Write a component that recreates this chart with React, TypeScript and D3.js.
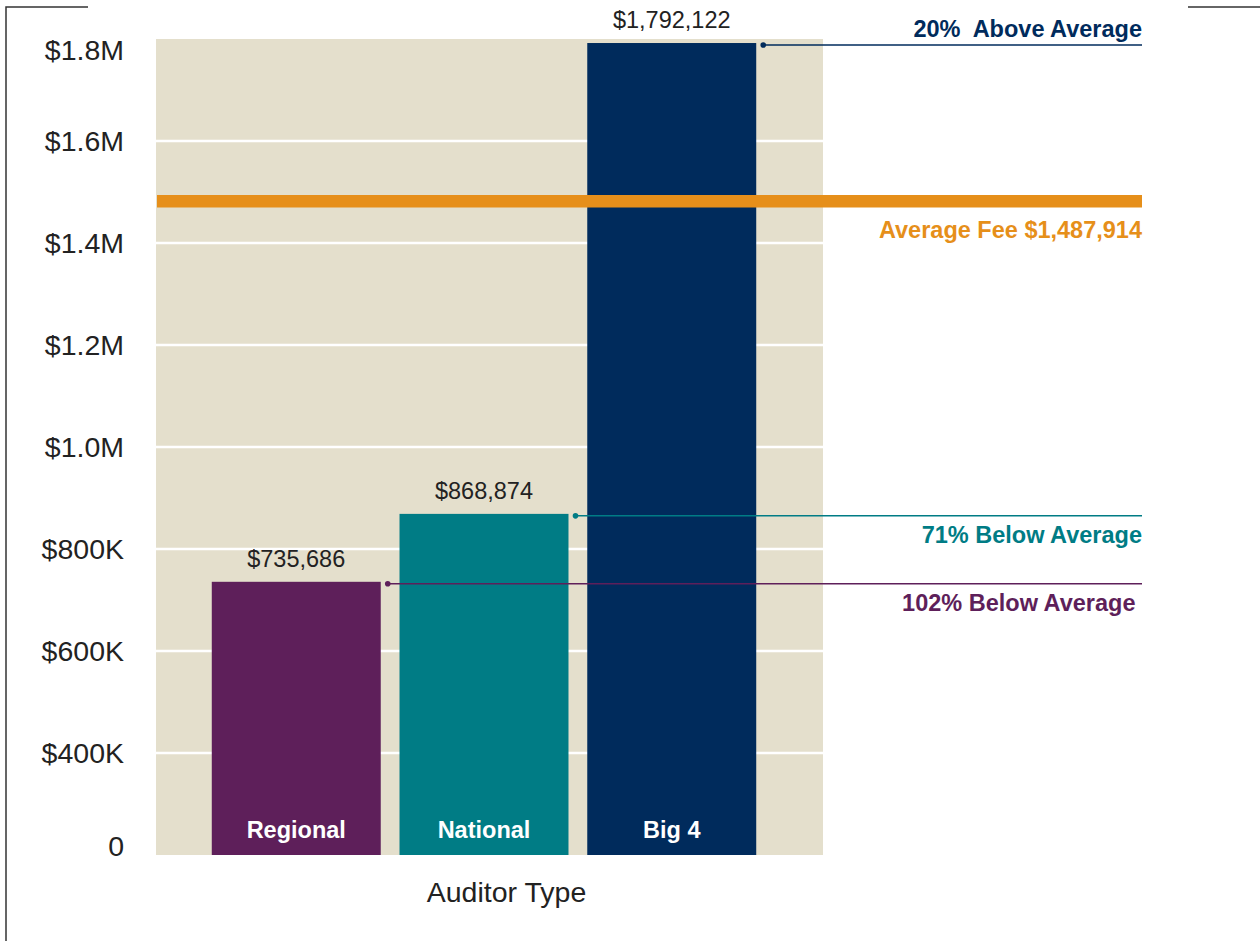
import React from 'react';
import * as d3 from 'd3';

const categories = ['Regional', 'National', 'Big 4'];
const fees = [735686, 868874, 1792122];
const barColors = ['#5E1F5A', '#007C85', '#002B5C'];
const compareLabels = ['102% Below Average ', '71% Below Average', '20%  Above Average'];
const averageFee = 1487914;
const yTickValues = [200000, 400000, 600000, 800000, 1000000, 1200000, 1400000, 1600000, 1800000];
const yTickLabels = ['0', '$400K', '$600K', '$800K', '$1.0M', '$1.2M', '$1.4M', '$1.6M', '$1.8M'];

const W = 1260;
const H = 941;
const plot = { left: 156, right: 823, top: 39, bottom: 855 };
const noteRight = 1142;
const font = '"Liberation Sans", Arial, Helvetica, sans-serif';
const textColor = '#222';

const App = () => {
  const x = d3.scaleBand<string>().domain(categories).range([193, 775]).paddingInner(0.1).paddingOuter(0.1);
  const y = d3.scaleLinear().domain([200000, 1800000]).range([plot.bottom, plot.top]);
  const money = d3.format('$,');
  const bw = x.bandwidth();

  return (
    <svg width={W} height={H} style={{ position: 'absolute', left: 0, top: 0, background: '#fff' }} fontFamily={font}>
      {/* frame corners */}
      <path d={`M88,7H6V${H}`} fill="none" stroke="#333" strokeWidth={1.5} />
      <path d={`M1188,7H${W}`} fill="none" stroke="#333" strokeWidth={1.5} />

      <rect x={plot.left} y={plot.top} width={plot.right - plot.left} height={plot.bottom - plot.top} fill="#E4DFCC" />
      {yTickValues.slice(1, -1).map((v) => (
        <line key={v} x1={plot.left} x2={plot.right} y1={y(v)} y2={y(v)} stroke="#fff" strokeWidth={2.5} />
      ))}

      {yTickValues.map((v, i) => {
        const last = i === yTickValues.length - 1;
        const first = i === 0;
        return (
          <text key={v} x={124} y={y(v)} dy={first ? 1 : last ? 21 : 10} textAnchor="end" fontSize={28.5} fill={textColor}>
            {yTickLabels[i]}
          </text>
        );
      })}

      {/* bars */}
      {categories.map((c, i) => {
        const bx = x(c) as number;
        const top = y(fees[i]);
        return (
          <g key={c}>
            <rect x={bx} y={top} width={bw} height={plot.bottom - top} fill={barColors[i]} />
            <text x={bx + bw / 2} y={top - 15} textAnchor="middle" fontSize={23.5} fill={textColor}>
              {money(fees[i])}
            </text>
            <text x={bx + bw / 2} y={plot.bottom - 17} textAnchor="middle" fontSize={23.5} fontWeight="bold" fill="#fff">
              {c}
            </text>
          </g>
        );
      })}

      {/* comparison leader lines, over the bars */}
      {categories.map((c, i) => {
        const bx = x(c) as number;
        const top = y(fees[i]) + 2;
        const above = fees[i] > averageFee;
        const dotX = bx + bw + 7;
        return (
          <g key={c}>
            <line x1={dotX} x2={noteRight} y1={top} y2={top} stroke={barColors[i]} strokeWidth={1.5} />
            <circle cx={dotX} cy={top} r={2.8} fill={barColors[i]} />
            <text
              x={noteRight}
              y={top}
              dy={above ? -8 : 27}
              textAnchor="end"
              fontSize={23.5}
              fontWeight="bold"
              fill={barColors[i]}
              style={{ whiteSpace: 'pre' }}
            >
              {compareLabels[i]}
            </text>
          </g>
        );
      })}

      <line x1={plot.left + 1} x2={noteRight} y1={y(averageFee) + 3} y2={y(averageFee) + 3} stroke="#E68F1A" strokeWidth={12.5} />
      <text x={noteRight} y={y(averageFee) + 3} dy={37} textAnchor="end" fontSize={23.5} fontWeight="bold" fill="#E68F1A">
        {`Average Fee ${money(averageFee)}`}
      </text>

      <text x={(plot.left + plot.right) / 2 + 17} y={902} textAnchor="middle" fontSize={28.5} fill={textColor}>
        Auditor Type
      </text>
    </svg>
  );
};

export default App;
